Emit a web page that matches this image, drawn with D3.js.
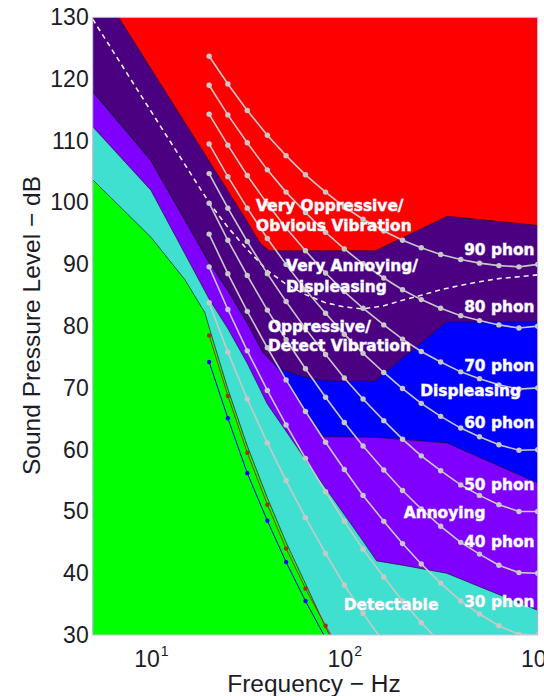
<!DOCTYPE html>
<html>
<head>
<meta charset="utf-8">
<script src="https://cdn.jsdelivr.net/npm/d3@7"></script>
<style>
  body { margin: 0; background: #fff; }
  svg { display: block; }
  text { font-family: "Liberation Sans", Arial, sans-serif; fill: #1c1c28; }
  .zone-label { font-family: "DejaVu Sans", Verdana, sans-serif; font-weight: bold; font-size: 15.4px; fill: #fff;
                stroke: #d8d0ec; stroke-opacity: 0.7; stroke-width: 0.9px; paint-order: stroke; }
</style>
</head>
<body>
<svg id="chart" width="544" height="696"></svg>
<script>
//  frequencies (Hz) where the equal loudness contours are sampled
var isoFreqs = [20, 25, 31.5, 40, 50, 63, 80, 100, 125, 160, 200, 250, 315, 400, 500, 630, 800, 1000];

//  equal loudness contours, dB SPL at each of isoFreqs
var phon90 = [123.7, 119.2, 114.9, 110.9, 107.6, 104.5, 101.7, 99.3, 97.3, 95.4, 93.9, 92.7, 91.6, 90.8, 90.2, 89.8, 89.6, 90.0];
var phon80 = [119.0, 114.2, 109.7, 105.3, 101.7, 98.4, 95.2, 92.5, 90.1, 87.8, 85.9, 84.3, 82.9, 81.7, 80.9, 80.2, 79.7, 80.0];
var phon70 = [114.3, 109.3, 104.4, 99.8, 95.9, 92.2, 88.6, 85.6, 82.9, 80.2, 77.9, 75.9, 74.2, 72.6, 71.5, 70.5, 69.8, 70.0];
var phon60 = [109.5, 104.2, 99.1, 94.2, 90.0, 85.9, 82.1, 78.7, 75.6, 72.5, 69.9, 67.5, 65.4, 63.5, 62.1, 60.8, 59.9, 60.0];
var phon50 = [104.7, 99.1, 93.7, 88.5, 84.0, 79.6, 75.4, 71.6, 68.2, 64.7, 61.7, 59.0, 56.6, 54.3, 52.6, 51.1, 50.0, 50.0];
var phon40 = [99.9, 93.9, 88.2, 82.6, 77.8, 73.1, 68.5, 64.4, 60.6, 56.7, 53.4, 50.4, 47.6, 45.0, 43.1, 41.3, 40.1, 40.0];
var phon30 = [94.9, 88.5, 82.4, 76.5, 71.3, 66.2, 61.2, 56.8, 52.6, 48.4, 44.8, 41.5, 38.4, 35.5, 33.4, 31.5, 30.1, 30.0];
var phon20 = [89.6, 82.7, 76.0, 69.6, 64.0, 58.6, 53.2, 48.4, 43.9, 39.4, 35.5, 32.0, 28.7, 25.7, 23.4, 21.5, 20.1, 20.0];
var phon10 = [83.8, 75.8, 68.2, 61.1, 55.0, 49.0, 43.2, 38.1, 33.5, 28.8, 24.8, 21.3, 18.1, 15.1, 13.0, 11.2, 10.0, 10.0];

//  hearing thresholds (red and blue dotted lines), from 20 Hz up
var thresholdRed = [78.5, 68.7, 59.5, 51.1, 44.0, 37.5, 31.5, 26.5];
var thresholdBlue = [74.2, 65.1, 56.2, 48.5, 41.8, 35.5, 29.5];

//  upper edge of every rating zone, [Hz, dB]
var edgeDetectable = [[5, 103.7], [10, 94.4], [15, 87.5], [19, 82.2], [20, 79.8], [25, 69.8], [31.5, 60.6], [40, 52.2], [50, 45.0], [63, 38.3], [80, 31.3], [100, 25]];
var edgeAnnoying = [[5, 112.3], [10, 102.0], [20, 84.4], [25, 79.6], [31.5, 74.0], [40, 67.4], [50, 63.0], [63, 58.4], [80, 53.8], [100, 49.5], [125, 45.2], [147, 42.0], [200, 41.3], [338, 40.0], [1000, 34.0]];
var edgeDispleasing = [[5, 118.0], [10, 106.8], [20, 90.3], [25, 85.8], [31.5, 80.5], [38, 75.7], [43, 74.0], [47, 72.5], [63, 66.4], [78, 62.1], [145, 62.0], [339, 61.1], [1000, 54.6]];
var edgeVeryAnnoying = [[5, 118.0], [10, 106.8], [20, 90.3], [25, 85.8], [31.5, 80.5], [38, 75.7], [43, 74.0], [48, 72.9], [57, 72.1], [69, 71.4], [95, 71.0], [144, 71.1], [339, 80.7], [1000, 80.7]];
var edgeOppressive = [[5, 136.6], [6.8, 130], [29, 98.7], [37, 93.3], [41, 92.2], [145, 92.2], [342, 97.8], [1000, 96.3]];

//  white dashed line
var dashedLine = [[5, 129.7], [10, 114.8], [20, 100.0], [25, 96.0], [31.5, 92.4], [40, 89.0], [50, 86.8], [63, 85.1], [80, 83.8], [100, 83.1], [125, 82.8], [160, 83.3], [200, 84.2], [250, 85.0], [315, 85.9], [400, 86.6], [500, 87.2], [630, 87.7], [800, 88.0], [1000, 88.3]];

//  text written in the zones, anchored at [Hz, dB]
var zoneLabels = [
    { text: "Very Oppressive/", f: 35.0, db: 98.6 },
    { text: "Obvious Vibration", f: 35.0, db: 95.4 },
    { text: "Very Annoying/", f: 50.0, db: 88.9 },
    { text: "Displeasing", f: 50.0, db: 85.6 },
    { text: "Oppressive/", f: 40.3, db: 79.1 },
    { text: "Detect Vibration", f: 40.3, db: 75.9 },
    { text: "Displeasing", f: 247, db: 68.7 },
    { text: "Annoying", f: 203, db: 48.9 },
    { text: "Detectable", f: 99.3, db: 34.1 }
];
var phonLabels = ["90 phon", "80 phon", "70 phon", "60 phon", "50 phon", "40 phon", "30 phon"];
var phonLabelDb = [91.5, 82.3, 72.8, 63.5, 53.5, 44.2, 34.6];

var yTicks = [30, 40, 50, 60, 70, 80, 90, 100, 110, 120, 130];
var xTicks = [10, 100, 1000];

var margin = { top: 17.3, right: 6.3, bottom: 61, left: 92.7 };
var width = 544 - margin.left - margin.right;
var height = 696 - margin.top - margin.bottom;

var x = d3.scaleLog().domain([5, 1000]).range([0, width]);
var y = d3.scaleLinear().domain([30, 130]).range([height, 0]);

var svg = d3.select("#chart");
var plot = svg.append("g").attr("transform", "translate(" + margin.left + "," + margin.top + ")");

plot.append("clipPath").attr("id", "plotClip")
    .append("rect").attr("width", width).attr("height", height);

var inner = plot.append("g").attr("clip-path", "url(#plotClip)");

// red everywhere, the zones are painted on top from the highest down
inner.append("rect").attr("width", width).attr("height", height).attr("fill", "#ff0000");

var zoneArea = d3.area()
    .x(function (d) { return x(d[0]); })
    .y0(height)
    .y1(function (d) { return y(d[1]); });
var edgeLine = d3.line()
    .x(function (d) { return x(d[0]); })
    .y(function (d) { return y(d[1]); });

var zones = [
    { edge: edgeOppressive, color: "#4b0082" },
    { edge: edgeVeryAnnoying, color: "#0000ff" },
    { edge: edgeDispleasing, color: "#8000ff" },
    { edge: edgeAnnoying, color: "#40e0d0" },
    { edge: edgeDetectable, color: "#00ff00" }
];

inner.selectAll("path.zone").data(zones).enter().append("path")
    .attr("class", "zone")
    .attr("d", function (d) { return zoneArea(d.edge); })
    .attr("fill", function (d) { return d.color; });

inner.selectAll("path.edge").data(zones).enter().append("path")
    .attr("class", "edge")
    .attr("d", function (d) { return edgeLine(d.edge); })
    .attr("fill", "none")
    .attr("stroke", "#1a1030")
    .attr("stroke-opacity", 0.75)
    .attr("stroke-width", 0.9);

inner.append("path")
    .attr("d", edgeLine(dashedLine))
    .attr("fill", "none")
    .attr("stroke", "#eeeeee")
    .attr("stroke-width", 1.6)
    .attr("stroke-dasharray", "5,4");

// loudness contours, grey with a dot at each frequency
var contours = [phon90, phon80, phon70, phon60, phon50, phon40, phon30, phon20, phon10];
var curveLine = d3.line()
    .x(function (d, i) { return x(isoFreqs[i]); })
    .y(function (d) { return y(d); });

contours.forEach(function (values) {
    inner.append("path")
        .attr("d", curveLine(values))
        .attr("fill", "none")
        .attr("stroke", "#c8c8c8")
        .attr("stroke-width", 1.6);
    inner.selectAll(null).data(values).enter().append("circle")
        .attr("cx", function (d, i) { return x(isoFreqs[i]); })
        .attr("cy", function (d) { return y(d); })
        .attr("r", 2.7)
        .attr("fill", "#c8c8c8");
});

function thresholdCurve(values, lineColor, dotColor) {
    inner.append("path")
        .attr("d", curveLine(values))
        .attr("fill", "none")
        .attr("stroke", lineColor)
        .attr("stroke-width", 1);
    inner.selectAll(null).data(values).enter().append("circle")
        .attr("cx", function (d, i) { return x(isoFreqs[i]); })
        .attr("cy", function (d) { return y(d); })
        .attr("r", 2.2)
        .attr("fill", dotColor);
}
thresholdCurve(thresholdBlue, "#0000ff", "#0000ff");
thresholdCurve(thresholdRed, "#d02000", "#a03010");

// zone names and phon names
inner.selectAll("text.zone-label").data(zoneLabels).enter().append("text")
    .attr("class", "zone-label")
    .attr("x", function (d) { return x(d.f); })
    .attr("y", function (d) { return y(d.db); })
    .text(function (d) { return d.text; });

inner.selectAll("text.phon-label").data(phonLabels).enter().append("text")
    .attr("class", "zone-label")
    .attr("text-anchor", "end")
    .attr("x", x(962))
    .attr("y", function (d, i) { return y(phonLabelDb[i]); })
    .text(function (d) { return d; });

// axes
var yAxis = plot.append("g")
    .call(d3.axisLeft(y).tickValues(yTicks).tickSize(0).tickPadding(4));
var xAxis = plot.append("g")
    .attr("transform", "translate(0," + height + ")")
    .call(d3.axisBottom(x).tickValues(xTicks).tickSize(0).tickFormat(""));

yAxis.select(".domain").remove();
xAxis.select(".domain").remove();
yAxis.selectAll("text")
    .attr("font-family", "Liberation Sans, Arial, sans-serif")
    .attr("font-size", 23)
    .attr("fill", "#1c1c28");

xAxis.selectAll(".tick text")
    .attr("font-family", "Liberation Sans, Arial, sans-serif")
    .attr("font-size", 23)
    .attr("fill", "#1c1c28")
    .attr("y", 31.5)
    .attr("dy", 0)
    .each(function (d) {
        var t = d3.select(this);
        t.append("tspan").text("10");
        t.append("tspan").attr("font-size", 14).attr("dy", -11).attr("dx", 1)
            .text(Math.round(Math.log10(d)));
    });

plot.append("rect")
    .attr("width", width).attr("height", height)
    .attr("fill", "none")
    .attr("stroke", "#c4c4e4")
    .attr("stroke-width", 1);

svg.append("text")
    .attr("x", 314)
    .attr("y", 691.5)
    .attr("text-anchor", "middle")
    .attr("font-size", 24.5)
    .text("Frequency \u2212 Hz");

svg.append("text")
    .attr("transform", "translate(40,325.5) rotate(-90)")
    .attr("text-anchor", "middle")
    .attr("font-size", 24.5)
    .text("Sound Pressure Level \u2212 dB");
</script>
</body>
</html>
